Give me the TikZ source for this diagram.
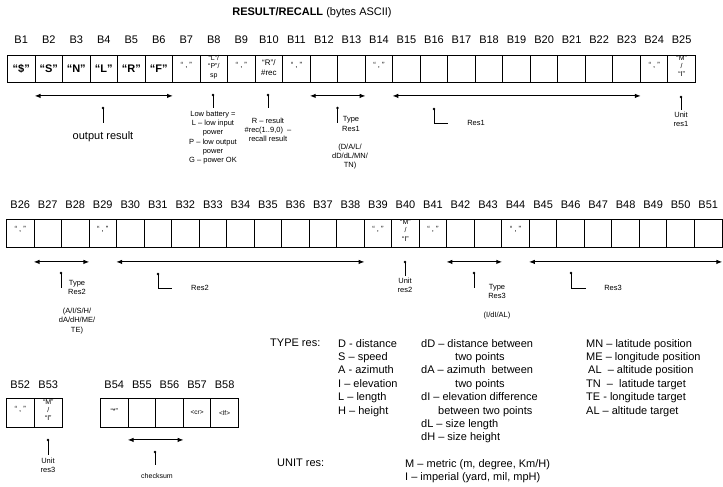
\documentclass[tikz,border=0pt]{standalone}
\usepackage{fontspec}
\setmainfont{Liberation Sans}
\usetikzlibrary{arrows.meta,calc}
\begin{document}
\begin{tikzpicture}[x=1pt,y=-1pt,
 cell/.style={draw,line width=0.9pt,minimum width=27.52pt,minimum height=28pt,inner sep=0pt,anchor=north west},
 blab/.style={font=\fontsize{11}{13}\selectfont,inner sep=0pt},
 bigq/.style={font=\fontsize{11}{13}\selectfont\bfseries,inner sep=0pt},
 tiny/.style={font=\fontsize{7}{8.3}\selectfont,align=center,inner sep=0pt},
 commaq/.style={font=\fontsize{7.5}{8}\selectfont,inner sep=0pt,yshift=4pt},
 dbl/.style={{Latex[length=6pt,width=4.5pt]}-{Latex[length=6pt,width=4.5pt]},line width=1.1pt},
 pdot/.style={circle,fill,inner sep=0pt,minimum size=2.6pt},
 pline/.style={line width=0.6pt},
 note/.style={font=\fontsize{7.5}{9.3}\selectfont,align=center,inner sep=0pt},
 leg/.style={font=\fontsize{11}{13.4}\selectfont,align=left,inner sep=0pt,anchor=north west}
]
\useasboundingbox (0,0) rectangle (723,487);

% title
\node[font=\fontsize{11}{13}\selectfont,inner sep=0pt] (title) at (312,13) {\textbf{RESULT/RECALL} (bytes ASCII)};

% row 1
\foreach \i in {1,...,25} {
  \node[cell,minimum height=27pt] (c\i) at ({7+(\i-1)*27.52},55) {};
  \node[blab] (l\i) at ($(c\i.north)+(0,-15)$) {B\i};
}
% row 2
\foreach \i in {26,...,51} {
  \node[cell] (c\i) at ({6+(\i-26)*27.52},219) {};
  \node[blab] (l\i) at ($(c\i.north)+(0,-14)$) {B\i};
}
% row 3
\foreach \i/\x in {52/6,53/34,54/100,55/127.6,56/155.2,57/182.8,58/210.4} {
  \node[cell,minimum width=27.6pt,minimum height=29pt] (c\i) at (\x,398) {};
  \node[blab] (l\i) at ($(c\i.north)+(0,-13)$) {B\i};
}

% contents
\node[bigq] (t1) at (c1) {“\$”};
\node[bigq] (t2) at (c2) {“S”};
\node[bigq] (t3) at (c3) {“N”};
\node[bigq] (t4) at (c4) {“L”};
\node[bigq] (t5) at (c5) {“R”};
\node[bigq] (t6) at (c6) {“F”};
\foreach \i in {7,9,11,14,24,26,29,39,41,44,52} {
  \node[commaq] (t\i) at (c\i) {“ , ”};
}
\node[tiny] (t8) at ($(c8.center)+(0,-2)$) {“L”/\\“P”/\\sp};
\node[tiny,font=\fontsize{8}{10}\selectfont] (t10) at ($(c10.center)+(0,-1.5)$) {“R”/\\\#rec};
\node[tiny] (t25) at ($(c25.center)+(0,-3)$) {“M”\\/\\“I”};
\node[tiny] (t40) at ($(c40.center)+(0,-3)$) {“M”\\/\\“I”};
\node[tiny] (t53) at ($(c53.center)+(0,-3)$) {“M”\\/\\“I”};
\node[tiny] (t54) at ($(c54.center)+(0,-2)$) {“*”};
\node[tiny,font=\fontsize{6.5}{8}\selectfont] (t57) at (c57) {<cr>};
\node[tiny,font=\fontsize{6.5}{8}\selectfont] (t58) at (c58) {<lf>};

% arrows row 1
\coordinate (a1l) at ($(c2.south west)+(0,13)$);
\coordinate (a1r) at ($(c6.south east)+(0,13)$);
\draw[dbl] (a1l) -- (a1r);
\coordinate (a2l) at ($(c12.south west)+(0,13)$);
\coordinate (a2r) at ($(c13.south east)+(0,13)$);
\draw[dbl] (a2l) -- (a2r);
\coordinate (a3l) at ($(c15.south west)+(0,13)$);
\coordinate (a3r) at ($(c23.south east)+(0,13)$);
\draw[dbl] (a3l) -- (a3r);
% arrows row 2
\coordinate (a4l) at ($(c27.south west)+(0,14)$);
\coordinate (a4r) at ($(c28.south east)+(0,14)$);
\draw[dbl] (a4l) -- (a4r);
\coordinate (a5l) at ($(c30.south west)+(0,14)$);
\coordinate (a5r) at ($(c38.south east)+(0,14)$);
\draw[dbl] (a5l) -- (a5r);
\coordinate (a6l) at ($(c42.south west)+(0,14)$);
\coordinate (a6r) at ($(c43.south east)+(0,14)$);
\draw[dbl] (a6l) -- (a6r);
\coordinate (a7l) at ($(c45.south west)+(0,14)$);
\coordinate (a7r) at ($(c51.south east)+(0,14)$);
\draw[dbl] (a7l) -- (a7r);
% arrow row 3
\coordinate (a8l) at ($(c55.south west)+(0,12)$);
\coordinate (a8r) at ($(c56.south east)+(0,12)$);
\draw[dbl] (a8l) -- (a8r);

% pointers row 1
\node[pdot] (d1) at (103,108) {};
\coordinate (e1) at (103,123);
\draw[pline] (d1.center) -- (e1);
\node[note,font=\fontsize{11}{12}\selectfont] (n1) at (103,137) {output result};

\node[pdot] (d2) at (213,95) {};
\coordinate (e2) at (213,108);
\draw[pline] (d2.center) -- (e2);
\node[note,anchor=north] (n2) at (213,110.5) {Low battery =\\L – low input\\power\\P – low output\\power\\G – power OK};

\node[pdot] (d3) at (268,95) {};
\coordinate (e3) at (268,108);
\draw[pline] (d3.center) -- (e3);
\node[note,anchor=north] (n3) at (268,117.5) {R – result\\\#rec(1..9,0)\ \ –\\recall result};

\node[pdot] (d4) at (337.5,108) {};
\coordinate (e4) at (337.5,123);
\draw[pline] (d4.center) -- (e4);
\node[note,anchor=north] (n4) at (351,116.5) {Type\\Res1};
\node[note,anchor=north] (n4b) at (350,143.5) {(D/A/L/\\dD/dL/MN/\\TN)};

\node[pdot] (d5) at (434,109) {};
\coordinate (e5a) at (434,123);
\coordinate (e5b) at (448,123);
\draw[pline] (d5.center) -- (e5a) -- (e5b);
\node[note] (n5) at (476,123) {Res1};

\node[pdot] (d6) at (681,97) {};
\coordinate (e6) at (681,110);
\draw[pline] (d6.center) -- (e6);
\node[note,anchor=north] (n6) at (681,112) {Unit\\res1};

% pointers row 2
\node[pdot] (d7) at (61,273) {};
\coordinate (e7) at (61,288);
\draw[pline] (d7.center) -- (e7);
\node[note,anchor=north] (n7) at (77,280) {Type\\Res2};
\node[note,anchor=north] (n7b) at (77,308) {(A/I/S/H/\\dA/dH/ME/\\TE)};

\node[pdot] (d8) at (158,274) {};
\coordinate (e8a) at (158,288);
\coordinate (e8b) at (172,288);
\draw[pline] (d8.center) -- (e8a) -- (e8b);
\node[note] (n8) at (200,288) {Res2};

\node[pdot] (d9) at (405,262) {};
\coordinate (e9) at (405,276);
\draw[pline] (d9.center) -- (e9);
\node[note,anchor=north] (n9) at (405,278) {Unit\\res2};

\node[pdot] (d10) at (474,273) {};
\coordinate (e10) at (474,288);
\draw[pline] (d10.center) -- (e10);
\node[note,anchor=north] (n10) at (497,284) {Type\\Res3};
\node[note] (n10b) at (497,316) {(I/dI/AL)};

\node[pdot] (d11) at (571,273) {};
\coordinate (e11a) at (571,288);
\coordinate (e11b) at (586,288);
\draw[pline] (d11.center) -- (e11a) -- (e11b);
\node[note] (n11) at (613,288) {Res3};

% pointers row 3
\node[pdot] (d12) at (48,440) {};
\coordinate (e12) at (48,455);
\draw[pline] (d12.center) -- (e12);
\node[note,anchor=north] (n12) at (48,458) {Unit\\res3};

\node[pdot] (d13) at (155,452) {};
\coordinate (e13) at (155,465);
\draw[pline] (d13.center) -- (e13);
\node[note,font=\fontsize{7}{9}\selectfont] (n13) at (157,476) {checksum};

% legend
\node[leg] (ty) at (270,339) {TYPE res:};
\node[leg] (col1) at (338,339) {D - distance\\S – speed\\A - azimuth\\I – elevation\\L – length\\H – height};
\node[leg] (col2) at (421,339) {dD – distance between\\\hspace*{34pt}two points\\dA – azimuth\ \ between\\\hspace*{34pt}two points\\dI – elevation difference\\\hspace*{17pt}between two points\\dL – size length\\dH – size height};
\node[leg] (col3) at (586,339) {MN – latitude position\\ME – longitude position\\\hspace*{2pt}AL\ \ – altitude position\\TN\ \ –\ \ latitude target\\TE - longitude target\\AL – altitude target};
\node[leg] (un) at (277,459) {UNIT res:};
\node[leg] (uncol) at (405,459) {M – metric (m, degree, Km/H)\\I – imperial (yard, mil, mpH)};
\end{tikzpicture}
\end{document}
